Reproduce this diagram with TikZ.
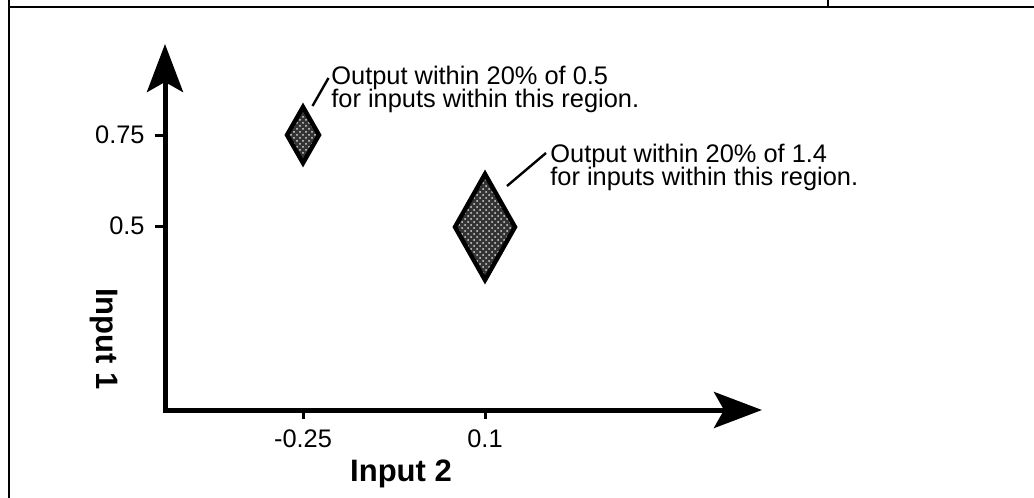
\documentclass[tikz,border=0pt]{standalone}
\usepackage{fontspec}
\setmainfont{Liberation Sans}
\usepackage{tikz}
\usetikzlibrary{arrows.meta,patterns}

\newcommand{\notefont}{\fontsize{12.7pt}{11.5pt}\selectfont\lineskiplimit=-10pt\relax}
\tikzset{
  axisline/.style={line width=2.5pt,line join=miter},
  region/.style={draw=black,line width=2.2pt,line join=miter,preaction={fill=black!80},
    pattern=crosshatch dots,pattern color=white!85!black},
  leader/.style={line width=1.2pt},
  note/.style={anchor=north west,align=left,inner sep=0pt,font=\notefont},
  ticklabel/.style={inner sep=0pt,font=\fontsize{12.7pt}{14pt}\selectfont},
  axislabel/.style={inner sep=0pt,font=\fontsize{15.5pt}{17pt}\selectfont\bfseries}
}

\begin{document}
\begin{tikzpicture}[x=0.5pt,y=-0.5pt,>={Stealth[length=24pt,width=18pt,inset=5pt]}]
\useasboundingbox (0,0) rectangle (1034,498);
% frame
\draw[line width=1.3pt] (9,0) -- (9,498);
\draw[line width=1.3pt] (9,7) -- (1034,7);
\draw[line width=1.3pt] (828,0) -- (828,7);
% axes
\coordinate (origin) at (165,410);
\coordinate (ytip) at (165,44);
\coordinate (xtip) at (762,410);
\draw[axisline,<->] (ytip) -- (origin) -- (xtip);
\foreach \y/\lab/\n in {135/0.75/a,226/0.5/b}{
  \draw[line width=1.5pt] (155,\y) -- (165,\y);
  \node[ticklabel,anchor=east] (ytick\n) at (145,\y) {\lab};
}
\foreach \x/\lab/\n in {303/-0.25/a,485/0.1/b}{
  \draw[line width=1.5pt] (\x,410) -- (\x,419);
  \node[ticklabel,anchor=north] (xtick\n) at (\x,429) {\lab};
}
\node[axislabel] (xlabel) at (401,474) {Input 2};
\node[axislabel,rotate=-90] (ylabel) at (104,339) {Input 1};
% regions
\draw[region] (303,107) -- (319,135) -- (303,163) -- (287,135) -- cycle;
\draw[region] (485,174) -- (515,227) -- (485,280) -- (455,227) -- cycle;
% notes
\node[note] (note1) at (331,66) {Output within 20\% of 0.5\\for inputs within this region.};
\node[note] (note2) at (550,144) {Output within 20\% of 1.4\\for inputs within this region.};
\coordinate (lead1a) at (312.5,106);
\coordinate (lead1b) at (328.5,78);
\coordinate (lead2a) at (507,186);
\coordinate (lead2b) at (546,153);
\draw[leader] (lead1a) -- (lead1b);
\draw[leader] (lead2a) -- (lead2b);
\end{tikzpicture}
\end{document}
